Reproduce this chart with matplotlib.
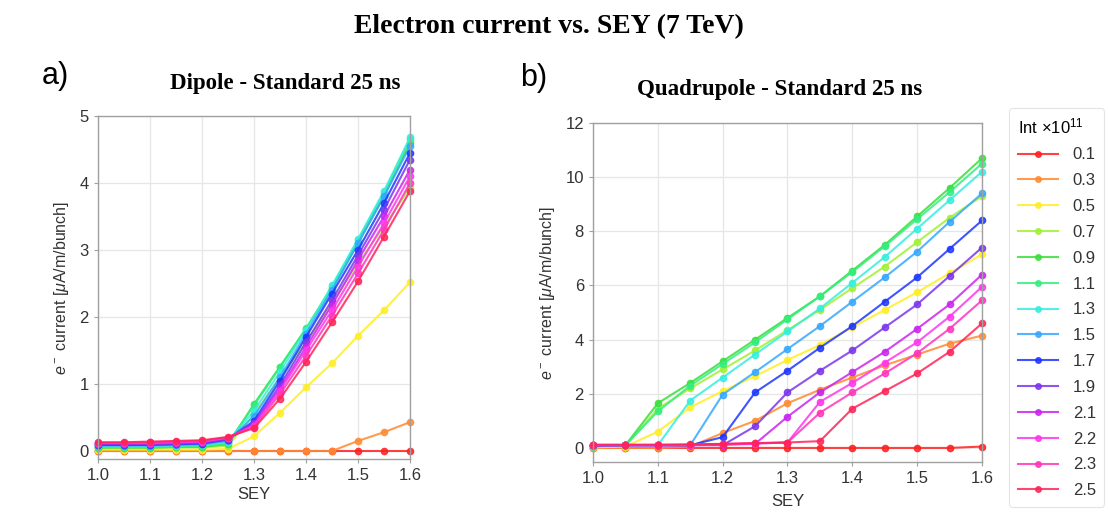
import numpy as np
import matplotlib
matplotlib.use("Agg")
import matplotlib.pyplot as plt
from matplotlib.lines import Line2D

plt.rcParams['font.family'] = ['Liberation Sans', 'DejaVu Sans']
plt.rcParams['mathtext.fontset'] = 'custom'
plt.rcParams['mathtext.rm'] = 'Liberation Sans'
plt.rcParams['mathtext.it'] = 'Liberation Sans:italic'

# SEY scan points and bunch intensities (x 1e11)
sey = [1.0, 1.05, 1.1, 1.15, 1.2, 1.25, 1.3, 1.35, 1.4, 1.45, 1.5, 1.55, 1.6]
intensity = ['0.1', '0.3', '0.5', '0.7', '0.9', '1.1', '1.3',
             '1.5', '1.7', '1.9', '2.1', '2.2', '2.3', '2.5']
colors = ['#ff2020', '#ff8a30', '#ffee22', '#a2f032', '#3ade3a', '#33ee80', '#35eede',
          '#35a8ff', '#1e36ff', '#7a35ee', '#c925ee', '#ff35ee', '#ff35bb', '#ff2458']

# dipole, e- current [uA/m/bunch]
dip_01 = [0.0, 0.0, 0.0, 0.0, 0.0, 0.0, 0.0, 0.0, 0.0, 0.0, 0.0, 0.0, 0.0]
dip_03 = [0.0, 0.0, 0.0, 0.0, 0.0, 0.0, 0.0, 0.0, 0.0, 0.0, 0.15, 0.28, 0.43]
dip_05 = [0.02, 0.02, 0.02, 0.02, 0.02, 0.03, 0.22, 0.57, 0.95, 1.31, 1.72, 2.1, 2.52]
dip_07 = [0.04, 0.04, 0.04, 0.05, 0.05, 0.08, 0.55, 1.1, 1.62, 2.2, 2.8, 3.35, 3.93]
dip_09 = [0.05, 0.05, 0.05, 0.06, 0.06, 0.1, 0.7, 1.26, 1.82, 2.42, 3.1, 3.8, 4.6]
dip_11 = [0.06, 0.06, 0.06, 0.07, 0.07, 0.12, 0.68, 1.25, 1.83, 2.45, 3.15, 3.85, 4.65]
dip_13 = [0.07, 0.07, 0.07, 0.08, 0.09, 0.14, 0.6, 1.18, 1.8, 2.47, 3.16, 3.88, 4.68]
dip_15 = [0.08, 0.08, 0.08, 0.09, 0.1, 0.15, 0.52, 1.1, 1.75, 2.4, 3.1, 3.8, 4.55]
dip_17 = [0.09, 0.09, 0.09, 0.1, 0.11, 0.17, 0.45, 1.05, 1.7, 2.35, 3.0, 3.7, 4.45]
dip_19 = [0.1, 0.1, 0.1, 0.11, 0.12, 0.18, 0.42, 0.98, 1.62, 2.25, 2.92, 3.6, 4.35]
dip_21 = [0.11, 0.11, 0.11, 0.12, 0.13, 0.19, 0.4, 0.93, 1.55, 2.18, 2.85, 3.5, 4.2]
dip_22 = [0.12, 0.12, 0.12, 0.13, 0.14, 0.2, 0.38, 0.9, 1.5, 2.1, 2.75, 3.4, 4.1]
dip_23 = [0.12, 0.12, 0.13, 0.14, 0.15, 0.2, 0.36, 0.85, 1.42, 2.02, 2.65, 3.3, 4.0]
dip_25 = [0.13, 0.13, 0.14, 0.15, 0.16, 0.21, 0.34, 0.78, 1.33, 1.92, 2.53, 3.2, 3.88]

# quadrupole, e- current [uA/m/bunch]
quad_01 = [0.0, 0.0, 0.0, 0.0, 0.0, 0.0, 0.0, 0.0, 0.0, 0.0, 0.0, 0.0, 0.05]
quad_03 = [0.0, 0.0, 0.0, 0.05, 0.55, 1.0, 1.65, 2.15, 2.6, 3.05, 3.45, 3.85, 4.15]
quad_05 = [0.02, 0.05, 0.6, 1.5, 2.1, 2.65, 3.25, 3.8, 4.45, 5.1, 5.75, 6.45, 7.15]
quad_07 = [0.05, 0.08, 1.45, 2.2, 2.9, 3.6, 4.35, 5.1, 5.9, 6.7, 7.6, 8.5, 9.3]
quad_09 = [0.06, 0.1, 1.65, 2.4, 3.2, 4.0, 4.8, 5.6, 6.55, 7.5, 8.55, 9.6, 10.7]
quad_11 = [0.07, 0.1, 1.35, 2.3, 3.1, 3.9, 4.75, 5.6, 6.5, 7.45, 8.45, 9.45, 10.5]
quad_13 = [0.08, 0.1, 0.1, 1.75, 2.6, 3.45, 4.3, 5.15, 6.1, 7.05, 8.1, 9.15, 10.2]
quad_15 = [0.08, 0.1, 0.1, 0.1, 1.97, 2.8, 3.65, 4.5, 5.4, 6.3, 7.25, 8.35, 9.4]
quad_17 = [0.09, 0.1, 0.1, 0.1, 0.4, 2.05, 2.85, 3.7, 4.5, 5.4, 6.3, 7.35, 8.4]
quad_19 = [0.09, 0.1, 0.1, 0.1, 0.1, 0.8, 2.05, 2.85, 3.6, 4.45, 5.3, 6.35, 7.4]
quad_21 = [0.1, 0.1, 0.1, 0.1, 0.12, 0.15, 1.15, 2.05, 2.8, 3.55, 4.4, 5.3, 6.4]
quad_22 = [0.1, 0.1, 0.1, 0.11, 0.13, 0.16, 0.2, 1.7, 2.4, 3.15, 3.9, 4.85, 5.95]
quad_23 = [0.11, 0.11, 0.11, 0.12, 0.14, 0.17, 0.2, 1.3, 2.05, 2.75, 3.5, 4.4, 5.45]
quad_25 = [0.12, 0.12, 0.12, 0.13, 0.15, 0.18, 0.2, 0.25, 1.45, 2.1, 2.75, 3.55, 4.6]

dipole = [dip_01, dip_03, dip_05, dip_07, dip_09, dip_11, dip_13,
          dip_15, dip_17, dip_19, dip_21, dip_22, dip_23, dip_25]
quadrupole = [quad_01, quad_03, quad_05, quad_07, quad_09, quad_11, quad_13,
              quad_15, quad_17, quad_19, quad_21, quad_22, quad_23, quad_25]

W, H = 1108, 519
fig = plt.figure(figsize=(W / 100, H / 100), dpi=100)


def px_axes(x0, x1, y0, y1):
    return fig.add_axes([x0 / W, 1 - y1 / H, (x1 - x0) / W, (y1 - y0) / H])


def style(ax, ylim, yticks, xpad):
    ax.set_xlim(1.0, 1.6)
    ax.set_ylim(*ylim)
    ax.set_xticks(np.arange(1.0, 1.61, 0.1))
    ax.set_xticklabels([f'{v:.1f}' for v in np.arange(1.0, 1.61, 0.1)])
    ax.set_yticks(yticks)
    ax.grid(True, color='#e6e6e6', linewidth=0.9)
    ax.set_axisbelow(True)
    for s in ax.spines.values():
        s.set_color('#a0a0a0')
        s.set_linewidth(1.0)
    ax.tick_params(labelsize=12, colors='#333333', length=3, color='#a0a0a0')
    ax.set_xlabel('SEY', fontsize=12, color='#333333', labelpad=xpad)
    ax.set_ylabel(r'$e^-$ current [$\mu$A/m/bunch]', fontsize=11.5, color='#333333', labelpad=6)


def draw(ax, series):
    for vals, c in zip(series, colors):
        ax.plot(sey, vals, '-o', color=c, lw=1.5, ms=4.5, alpha=0.85, clip_on=False)


ax1 = px_axes(98, 410, 116, 459)
draw(ax1, dipole)
style(ax1, (-0.12, 5), range(0, 6), 3)

ax2 = px_axes(593, 982, 123, 462)
draw(ax2, quadrupole)
style(ax2, (-0.52, 12), range(0, 13, 2), 6)

fig.text(549 / W, 1 - 27 / H, 'Electron current vs. SEY (7 TeV)', ha='center', va='center',
         family='Liberation Serif', fontweight='bold', fontsize=20)
fig.text(285 / W, 1 - 84 / H, 'Dipole - Standard 25 ns', ha='center', va='center',
         family='Liberation Serif', fontweight='bold', fontsize=16.5)
fig.text(780 / W, 1 - 89 / H, 'Quadrupole - Standard 25 ns', ha='center', va='center',
         family='Liberation Serif', fontweight='bold', fontsize=16.5)
fig.text(42 / W, 1 - 76 / H, 'a)', ha='left', va='center', fontsize=22)
fig.text(520 / W, 1 - 78 / H, 'b)', ha='left', va='center', fontsize=22)

handles = [Line2D([], [], color=c, marker='o', lw=1.5, ms=4, alpha=0.85) for c in colors]
leg = fig.legend(handles, intensity, title='Int ×10$^{11}$', loc='upper left',
                 bbox_to_anchor=(1001 / W, 1 - 100 / H), fontsize=12, title_fontsize=12,
                 frameon=True, fancybox=True, handlelength=2.4, handletextpad=0.9,
                 labelspacing=0.65, borderpad=0.5, alignment='left')
leg.get_frame().set_edgecolor('#dddddd')
leg.get_frame().set_linewidth(0.8)
for t in leg.get_texts():
    t.set_color('#333333')

fig.savefig('out.png', dpi=100)
